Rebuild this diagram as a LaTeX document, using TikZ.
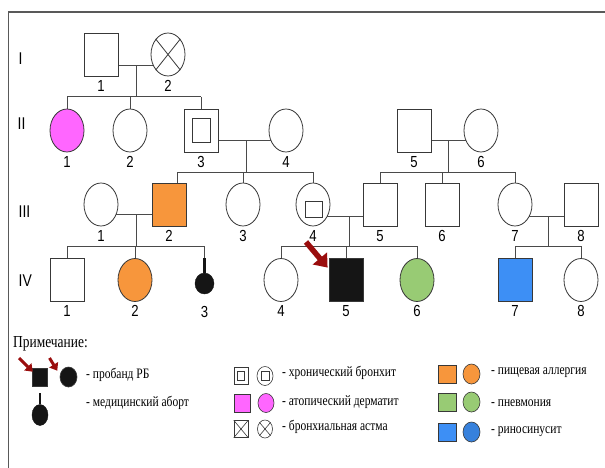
\documentclass[tikz,border=0pt]{standalone}
\usepackage{fontspec}
\setmainfont{Liberation Serif}
\newfontfamily\lgfont[FakeStretch=0.8]{Liberation Serif}
\newfontfamily\labfont[FakeStretch=0.82]{Liberation Sans}
\usetikzlibrary{shapes.geometric,backgrounds,arrows.meta}
\definecolor{linec}{HTML}{4A4A4A}
\definecolor{pinkc}{HTML}{FF66FF}
\definecolor{orangec}{HTML}{F7963C}
\definecolor{greenc}{HTML}{98CB74}
\definecolor{bluec}{HTML}{3D8FF5}
\definecolor{blackc}{HTML}{151515}
\definecolor{redc}{HTML}{B50F0F}
\tikzset{
  male/.style={draw=blackc!85, line width=0.8pt, rectangle, minimum width=34pt, minimum height=43pt, inner sep=0pt, fill=white},
  female/.style={draw=blackc!85, line width=0.8pt, ellipse, minimum width=34pt, minimum height=43pt, inner sep=0pt, fill=white},
  num/.style={font=\labfont\fontsize{16}{16}\selectfont, inner sep=0pt},
  gen/.style={font=\labfont\fontsize{17}{17}\selectfont, inner sep=0pt, anchor=west},
  conn/.style={draw=linec, line width=1pt},
  lab/.style={label={[num,label distance=3.5pt]below:#1}},
  lgsq/.style={draw=blackc!85, line width=0.6pt, rectangle, minimum width=15pt, minimum height=17pt, inner sep=0pt},
  lgci/.style={draw=blackc!85, line width=0.6pt, ellipse, minimum width=16pt, minimum height=19pt, inner sep=0pt},
  lgtxt/.style={font=\lgfont\fontsize{14.4}{15}\selectfont, anchor=west, inner sep=0pt},
  proarrow/.style={draw=redc!85!black, line width=5.5pt, -{Triangle[length=12pt,width=18pt]}},
  smallarrow/.style={draw=redc!85!black, line width=3pt, -{Triangle[length=7pt,width=10pt]}},
}
\begin{document}
\begin{tikzpicture}[x=1pt,y=-1pt]
\useasboundingbox (0,0) rectangle (605,468);
% frame
\draw[gray!70!black, line width=1.2pt] (8.5,468) -- (8.5,12) -- (605,12);

% generation numerals
\node[gen] (gI) at (18.5,59) {I};
\node[gen] (gII) at (17.5,124) {II};
\node[gen] (gIII) at (18.5,212) {III};
\node[gen] (gIV) at (18.5,281) {IV};

% Generation I
\node[male, lab=1] (I1) at (101,54.5) {};
\node[female, lab=2] (I2) at (168,54.5) {};
\draw[blackc!85, line width=0.8pt] (I2.north east) -- (I2.south west) (I2.north west) -- (I2.south east);

% Generation II
\node[female, fill=pinkc, lab=1] (II1) at (67,130.5) {};
\node[female, lab=2] (II2) at (130,130.5) {};
\node[male, lab=3] (II3) at (201,130.5) {};
\node[draw=blackc!85, line width=0.8pt, minimum width=18pt, minimum height=24pt, inner sep=0pt] (II3in) at (II3.center) {};
\node[female, lab=4] (II4) at (286,130.5) {};
\node[male, lab=5] (II5) at (414,130.5) {};
\node[female, lab=6] (II6) at (481,130.5) {};

% Generation III
\node[female, lab=1] (III1) at (101,204.5) {};
\node[male, fill=orangec, lab=2] (III2) at (169,204.5) {};
\node[female, lab=3] (III3) at (243,204.5) {};
\node[female, lab=4] (III4) at (313,204.5) {};
\node[draw=blackc!85, line width=0.8pt, minimum width=17pt, minimum height=16pt, inner sep=0pt] (III4in) at (313.5,209.5) {};
\node[male, lab=5] (III5) at (380,204.5) {};
\node[male, lab=6] (III6) at (442,204.5) {};
\node[female, lab=7] (III7) at (515,204.5) {};
\node[male, lab=8] (III8) at (581,204.5) {};

% Generation IV
\node[male, lab=1] (IV1) at (67,280) {};
\node[female, fill=orangec, lab=2] (IV2) at (135,280) {};
\node[ellipse, fill=blackc, draw=blackc, minimum width=19pt, minimum height=21pt, inner sep=0pt] (IV3) at (204.5,283.5) {};
\node[num] (IV3l) at (204.5,312) {3};
\node[female, lab=4] (IV4) at (281,280) {};
\node[male, fill=blackc, lab=5] (IV5) at (346,280) {};
\node[female, fill=greenc, lab=6] (IV6) at (417,280) {};
\node[male, fill=bluec, lab=7] (IV7) at (515,280) {};
\node[female, lab=8] (IV8) at (581,280) {};

% coordinates of marriage / sibship lines
\coordinate (m1) at (136,66);   \coordinate (s1) at (136,97);
\coordinate (m2a) at (246,141); \coordinate (s2a) at (246,172);
\coordinate (m2b) at (448,141); \coordinate (s2b) at (448,172);
\coordinate (m3a) at (136,214); \coordinate (s3a) at (136,246);
\coordinate (m3b) at (349,216); \coordinate (s3b) at (349,246);
\coordinate (m3c) at (548,216); \coordinate (s3c) at (548,246);
\coordinate (d32) at (177,172);

\begin{scope}[on background layer]
  % I
  \draw[conn] (I1.center |- m1) -- (I2.center |- m1);
  \draw[conn] (m1) -- (s1);
  \draw[conn] (II1.north |- s1) -- (II3.north |- s1);
  \foreach \c in {II1,II2,II3} \draw[conn] (\c.north |- s1) -- (\c.north);
  % II3 x II4
  \draw[conn] (II3.center |- m2a) -- (II4.center |- m2a);
  \draw[conn] (m2a) -- (s2a);
  \draw[conn] (d32) -- (III4.north |- s2a);
  \draw[conn] (d32) -- (d32 |- III2.north);
  \foreach \c in {III3,III4} \draw[conn] (\c.north |- s2a) -- (\c.north);
  % II5 x II6
  \draw[conn] (II5.center |- m2b) -- (II6.center |- m2b);
  \draw[conn] (m2b) -- (s2b);
  \draw[conn] (III5.north |- s2b) -- (III7.north |- s2b);
  \foreach \c in {III5,III6,III7} \draw[conn] (\c.north |- s2b) -- (\c.north);
  % III1 x III2
  \draw[conn] (III1.center |- m3a) -- (III2.center |- m3a);
  \draw[conn] (m3a) -- (s3a);
  \draw[conn] (IV1.north |- s3a) -- (IV3.north |- s3a);
  \foreach \c in {IV1,IV2} \draw[conn] (\c.north |- s3a) -- (\c.north);
  \draw[conn] (IV3.north |- s3a) -- (IV3.north);
  % III4 x III5
  \draw[conn] (III4.center |- m3b) -- (III5.center |- m3b);
  \draw[conn] (m3b) -- (s3b);
  \draw[conn] (IV4.north |- s3b) -- (IV6.north |- s3b);
  \foreach \c in {IV4,IV5,IV6} \draw[conn] (\c.north |- s3b) -- (\c.north);
  % III7 x III8
  \draw[conn] (III7.center |- m3c) -- (III8.center |- m3c);
  \draw[conn] (m3c) -- (s3c);
  \draw[conn] (IV7.north |- s3c) -- (IV8.north |- s3c);
  \foreach \c in {IV7,IV8} \draw[conn] (\c.north |- s3c) -- (\c.north);
\end{scope}
% abortion stem
\draw[blackc, line width=2.4pt] (IV3.north) -- ++(0,-15);

% proband arrow
\coordinate (pa) at (306,242);
\draw[proarrow] (pa) -- ([shift={(-1,9.5)}]IV5.north west);

% ---------------- legend ----------------
\node[anchor=west, inner sep=0pt, font=\lgfont\fontsize{16.8}{17}\selectfont] (note) at (13,344) {Примечание:};

\node[lgsq, fill=blackc, minimum width=15pt, minimum height=18pt] (lpsq) at (39.5,377) {};
\node[lgci, fill=blackc, minimum width=17pt, minimum height=20pt] (lpci) at (68.5,377) {};
\coordinate (la1) at (19,358);
\coordinate (la2) at (49.5,358);
\draw[smallarrow] (la1) -- ([shift={(1,4)}]lpsq.north west);
\draw[smallarrow] (la2) -- ([shift={(-5,1)}]lpci.north west);
\node[lgtxt] (t1) at (86,375) {- пробанд РБ};

\node[ellipse, fill=blackc, draw=blackc, minimum width=16pt, minimum height=21pt, inner sep=0pt] (lab) at (40,415) {};
\draw[blackc, line width=2.2pt] (lab.north) -- ++(0,-11);
\node[lgtxt] (t2) at (86,403) {- медицинский аборт};

% middle column
\node[lgsq, minimum width=14pt] (lcs) at (241,376) {};
\node[draw=blackc!85, line width=0.6pt, minimum width=7pt, minimum height=9pt, inner sep=0pt] (lcsi) at (lcs.center) {};
\node[lgci] (lcc) at (265,376) {};
\node[draw=blackc!85, line width=0.6pt, minimum width=8pt, minimum height=9pt, inner sep=0pt] (lcci) at (lcc.center) {};
\node[lgtxt] (t3) at (282,373) {- хронический бронхит};

\node[lgsq, fill=pinkc, minimum width=16pt, minimum height=18pt] (lds) at (242,403) {};
\node[lgci, fill=pinkc] (ldc) at (266,403) {};
\node[lgtxt] (t4) at (282,402) {- атопический дерматит};

\node[lgsq, minimum width=14pt] (las) at (241,429) {};
\draw[blackc!85, line width=0.6pt] (las.north west) -- (las.south east) (las.north east) -- (las.south west);
\node[lgci, minimum width=15pt, minimum height=18pt] (lac) at (265,429) {};
\draw[blackc!85, line width=0.6pt] (lac.north east) -- (lac.south west) (lac.north west) -- (lac.south east);
\node[lgtxt] (t5) at (282,427) {- бронхиальная астма};

% right column
\node[lgsq, fill=orangec, minimum width=18pt, minimum height=18pt] (los) at (447,374) {};
\node[lgci, fill=orangec, minimum width=17pt, minimum height=20pt] (loc) at (471.5,374) {};
\node[lgtxt] (t6) at (491,373) {- пищевая аллергия};

\node[lgsq, fill=greenc, minimum width=18pt, minimum height=18pt] (lgs) at (447,402) {};
\node[lgci, fill=greenc, minimum width=17pt, minimum height=20pt] (lgc) at (471.5,402) {};
\node[lgtxt] (t7) at (491,403) {- пневмония};

\node[lgsq, fill=bluec, minimum width=18pt, minimum height=18pt] (lbs) at (447,432) {};
\node[lgci, fill=bluec!90!black, minimum width=17pt, minimum height=20pt] (lbc) at (471.5,432) {};
\node[lgtxt] (t8) at (491,432) {- риносинусит};
\end{tikzpicture}
\end{document}
